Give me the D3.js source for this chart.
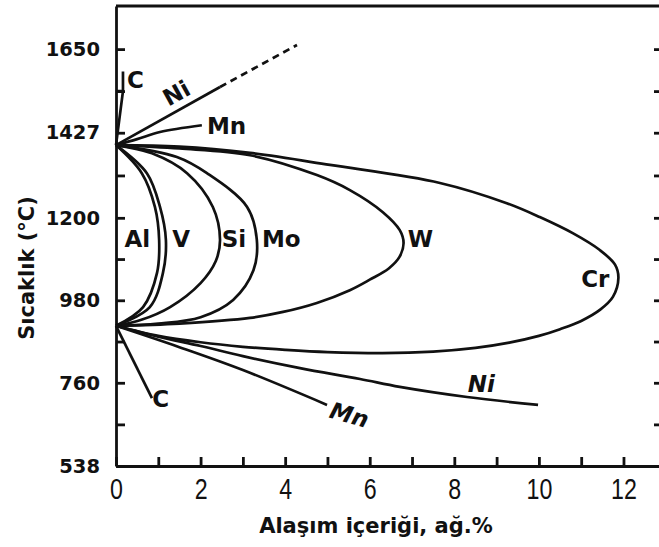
<!DOCTYPE html>
<html>
<head>
<meta charset="utf-8">
<script src="https://cdn.jsdelivr.net/npm/d3@7"></script>
<style>
  body { margin: 0; background: #fff; }
  svg text { fill: #111; font-family: "DejaVu Sans", sans-serif; font-weight: bold; }
  .axis path, .axis line { stroke: #111; stroke-width: 2.8; }
  .xaxis text { font-family: "Liberation Sans", Arial, sans-serif; font-weight: normal; font-size: 29px; }
  .yaxis text { font-size: 19.5px; }
  .curve { fill: none; stroke: #111; stroke-width: 2.7; }
</style>
</head>
<body>
<script>
// Width and height
var w = 659;
var h = 547;

// axis ticks
var xTicks = [0, 1, 2, 3, 4, 5, 6, 7, 8, 9, 10, 11, 12];
var xLabels = [0, 2, 4, 6, 8, 10, 12];
var yTicks = [538, 649, 760, 870, 980, 1090, 1200, 1313, 1427, 1538, 1650];
var yLabels = [538, 760, 980, 1200, 1427, 1650];

// curves: [alloy %, temperature °C]
var cUpper = [[0, 1394], [0.165, 1538], [0.165, 1590]];
var cUpperTick = [[0, 1538], [0.165, 1538]];
var niUpper = [[0, 1394], [2.46, 1549]];
var niUpperDashed = [[2.46, 1549], [4.28, 1661]];
var mnUpper = [[0, 1394], [0.5, 1410], [1.04, 1429], [2.03, 1447]];

var loopAl = [[0, 1394], [0.61, 1319], [0.92, 1229], [1.02, 1141], [0.97, 1053], [0.64, 962], [0, 912]];
var loopV = [[0, 1394], [0.73, 1319], [1.04, 1229], [1.18, 1141], [1.11, 1053], [0.8, 962], [0, 912]];
var loopSi = [[0, 1394], [0.85, 1372], [1.68, 1319], [2.29, 1229], [2.46, 1141], [2.36, 1085], [2.0, 1026], [1.28, 962], [0.6, 928], [0, 912]];
var loopMo = [[0, 1394], [1.44, 1362], [2.15, 1319], [3.1, 1229], [3.33, 1141], [3.25, 1060], [2.77, 981], [2.0, 935], [1.0, 918], [0, 912]];
var loopW = [[0, 1394], [1.5, 1385], [3.17, 1367], [4.75, 1314], [5.53, 1274], [6.31, 1215], [6.71, 1167], [6.8, 1133],
  [6.7, 1095], [6.45, 1065], [6.0, 1035], [5.53, 1007], [4.75, 973], [3.95, 949], [3.17, 933], [1.5, 918], [0, 912]];
var loopCr = [[0, 1394], [1.5, 1390], [3.17, 1373], [5.06, 1341], [7.66, 1293], [9.24, 1239], [10.02, 1202], [10.8, 1159],
  [11.44, 1114], [11.8, 1075], [11.88, 1040], [11.75, 989], [11.45, 955], [11.0, 925], [10.5, 903], [10.0, 885], [9.3, 867],
  [8.5, 853], [7.5, 843], [6.3, 839], [5.0, 842], [4.0, 848], [3, 856], [2, 868], [1, 885], [0, 912]];

var niLower = [[0, 912], [1, 883], [2, 858], [3, 831], [4.35, 799], [5.77, 770], [6.71, 749], [8.3, 722], [9.98, 701]];
var mnLower = [[0, 912], [1.5, 855], [3, 794], [4.99, 701]];
var cLower = [[0, 912], [0.85, 719]];

// labels: text, alloy %, temperature, rotation, italic
var labels = [
  ["C", 0.26, 1546, 0, false],
  ["Ni", 1.24, 1496, -29, false],
  ["Mn", 2.15, 1424, 0, false],
  ["Al", 0.2, 1122, 0, false],
  ["V", 1.33, 1122, 0, false],
  ["Si", 2.5, 1122, 0, false],
  ["Mo", 3.45, 1122, 0, false],
  ["W", 6.9, 1122, 0, false],
  ["Cr", 11.0, 1016, 0, false],
  ["C", 0.86, 695, 0, false],
  ["Mn", 5.02, 668, 16, true],
  ["Ni", 8.32, 736, 0, true]
];

var xScale = d3.scaleLinear().domain([0, 12.84]).range([116, 659]);
var yScale = d3.scaleLinear().domain([538, 1765]).range([466, 6]);

var svg = d3.select("body").append("svg").attr("width", w).attr("height", h);

var line = d3.line()
  .x(function (d) { return xScale(d[0]); })
  .y(function (d) { return yScale(d[1]); });
var smooth = d3.line()
  .x(function (d) { return xScale(d[0]); })
  .y(function (d) { return yScale(d[1]); })
  .curve(d3.curveCatmullRom.alpha(0.5));

// top border
svg.append("line")
  .attr("x1", xScale(0)).attr("x2", w)
  .attr("y1", yScale.range()[1]).attr("y2", yScale.range()[1])
  .attr("stroke", "#111").attr("stroke-width", 3);

// axes
var xAxis = d3.axisBottom(xScale).tickValues(xTicks).tickSize(-9).tickSizeOuter(0).tickPadding(12)
  .tickFormat(function (d) { return xLabels.indexOf(d) >= 0 ? d : ""; });
var yAxis = d3.axisLeft(yScale).tickValues(yTicks).tickSize(-9).tickSizeOuter(0).tickPadding(16)
  .tickFormat(function (d) { return yLabels.indexOf(d) >= 0 ? d : ""; });
var yAxisRight = d3.axisLeft(yScale).tickValues(yTicks).tickSize(6).tickSizeOuter(0).tickFormat("");

var gx = svg.append("g").attr("class", "axis xaxis")
  .attr("transform", "translate(0," + yScale.range()[0] + ")").call(xAxis);
// narrow, tall digits like the original
gx.selectAll(".tick text").attr("transform", "scale(0.8,1)");
svg.append("g").attr("class", "axis yaxis")
  .attr("transform", "translate(" + xScale(0) + ",0)").call(yAxis);
svg.append("g").attr("class", "axis")
  .attr("transform", "translate(660,0)").call(yAxisRight)
  .select(".domain").remove();

// curves
[cUpper, cUpperTick, niUpper, cLower].forEach(function (c) {
  svg.append("path").attr("class", "curve").attr("d", line(c));
});
svg.append("path").attr("class", "curve").attr("d", line(niUpperDashed)).attr("stroke-dasharray", "7,5");
[mnUpper, loopAl, loopV, loopSi, loopMo, loopW, loopCr, niLower, mnLower].forEach(function (c) {
  svg.append("path").attr("class", "curve").attr("d", smooth(c));
});

// curve labels
labels.forEach(function (l) {
  var x = xScale(l[1]), y = yScale(l[2]);
  svg.append("text")
    .attr("x", x).attr("y", y)
    .attr("transform", "rotate(" + l[3] + "," + x + "," + y + ")")
    .style("font-size", "23px")
    .style("font-style", l[4] ? "italic" : "normal")
    .text(l[0]);
});

// axis titles
svg.append("text")
  .attr("x", 376).attr("y", 533)
  .attr("text-anchor", "middle")
  .style("font-size", "21px")
  .text("Alaşım içeriği, ağ.%");
svg.append("text")
  .attr("transform", "translate(34,268) rotate(-90)")
  .attr("text-anchor", "middle")
  .style("font-size", "21px")
  .text("Sıcaklık (°C)");
</script>
</body>
</html>
